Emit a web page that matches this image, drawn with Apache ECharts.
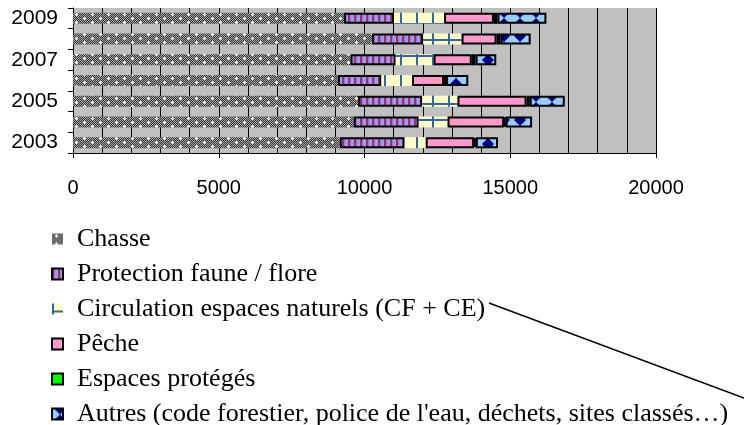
<!DOCTYPE html>
<html><head><meta charset="utf-8">
<script src="https://cdn.jsdelivr.net/npm/echarts@6/dist/echarts.min.js"></script>
<style>html,body{margin:0;padding:0;background:#fff}#c{width:744px;height:425px}</style>
</head><body><div id="c"></div>
<script>
var years = ['2003','2004','2005','2006','2007','2008','2009'];
var chasse = [9150, 9630, 9780, 9090, 9520, 10260, 9300];
var protection = [2230, 2230, 2200, 1490, 1550, 1750, 1710];
var circulation = [720, 990, 1210, 1050, 1300, 1320, 1720];
var peche = [1660, 1940, 2370, 1100, 1310, 1200, 1710];
var espaces = [60, 50, 110, 70, 130, 140, 120];
var autres = [760, 910, 1200, 760, 710, 1030, 1680];
var seriesNames = ['Chasse','Protection faune / flore','Circulation espaces naturels (CF + CE)','Pêche','Espaces protégés',"Autres (code forestier, police de l'eau, déchets, sites classés…)"];
var xTicks = [0, 5000, 10000, 15000, 20000];

function tile(w, h, draw){ var c=document.createElement('canvas'); c.width=w; c.height=h; draw(c.getContext('2d')); return {image:c, repeat:'repeat'}; }
var patChasse = tile(16, 8, function(g){
  for(var y=0;y<8;y++)for(var x=0;x<16;x++){ g.fillStyle=((x+y)%2)?'#333333':'#aaaaaa'; g.fillRect(x,y,1,1); }
  g.fillStyle='#fff'; g.fillRect(4,1,1,3); g.fillRect(3,2,3,1); g.fillRect(12,5,1,3); g.fillRect(11,6,3,1);
});
var patProt = tile(6, 4, function(g){ g.fillStyle='#9999FF'; g.fillRect(0,0,6,4); g.fillStyle='#993366'; g.fillRect(0,0,2,4); g.fillStyle='#b070b0'; g.fillRect(2,0,1,4); });
var patCirc = tile(16, 16, function(g){ g.fillStyle='#FFFFCC'; g.fillRect(0,0,16,16); g.fillStyle='#336699'; g.fillRect(0,0,2,16); g.fillRect(0,7,16,2); });
var patAutres = tile(16, 12, function(g){ g.fillStyle='#99CCFF'; g.fillRect(0,0,16,12); g.fillStyle='#000080';
  g.beginPath(); g.moveTo(2,0); g.lineTo(14,0); g.lineTo(8,6); g.closePath(); g.fill();
  g.beginPath(); g.moveTo(8,6); g.lineTo(14,12); g.lineTo(2,12); g.closePath(); g.fill(); });

var styles = [
  {color: patChasse, borderWidth: 0},
  {color: patProt, borderColor:'#000', borderWidth: 2},
  {color: patCirc, borderColor:'#000', borderWidth: 0},
  {color: '#FF99CC', borderColor:'#000', borderWidth: 2},
  {color: '#00FF00', borderColor:'#000', borderWidth: 2},
  {color: patAutres, borderColor:'#000', borderWidth: 2}
];
var dataSets = [chasse, protection, circulation, peche, espaces, autres];
var series = dataSets.map(function(d,i){ return {name: seriesNames[i], type:'bar', stack:'t', barWidth: 11, data: d, itemStyle: styles[i], emphasis:{disabled:true}}; });

var chart = echarts.init(document.getElementById('c'), null, {renderer:'canvas'});
chart.setOption({
  animation: false,
  backgroundColor: '#fff',
  grid: {left: 73, right: 88, top: 8, bottom: 272, show: true, backgroundColor: '#C0C0C0', borderWidth: 0, containLabel: false},
  xAxis: {type:'value', min: xTicks[0], max: xTicks[xTicks.length-1], interval: 5000,
    axisLine:{show:true, lineStyle:{color:'#000', width:1}},
    axisTick:{show:true, length:5, lineStyle:{color:'#000'}},
    axisLabel:{color:'#000', fontFamily:'Liberation Sans, Arial', fontSize:20, margin:25, formatter:function(v){return String(v);}},
    splitLine:{show:true, lineStyle:{color:'#000', width:1}},
    minorTick:{show:false, splitNumber:5},
    minorSplitLine:{show:true, lineStyle:{color:'#000', width:1}}
  },
  yAxis: {type:'category', data: years,
    axisLine:{show:true, lineStyle:{color:'#000', width:1}},
    axisTick:{show:true, length:5, interval:0, lineStyle:{color:'#000'}},
    axisLabel:{color:'#000', fontFamily:'Liberation Sans, Arial', fontSize:21, interval:1, margin:15}
  },
  legend: {orient:'vertical', left: 51, top: 226, width: 700, height: 230, padding: 0, itemWidth: 11, itemHeight: 11, itemGap: 9, icon:'rect',
    textStyle:{color:'#000', fontFamily:'Liberation Serif, Times New Roman', fontSize:26, lineHeight:26, padding:[0,0,0,9]},
    selectedMode:false, data: seriesNames},
  graphic: [{type:'line', shape:{x1:489, y1:303, x2:744, y2:398}, style:{stroke:'#000', lineWidth:1.5}}],
  series: series
});
</script></body></html>
